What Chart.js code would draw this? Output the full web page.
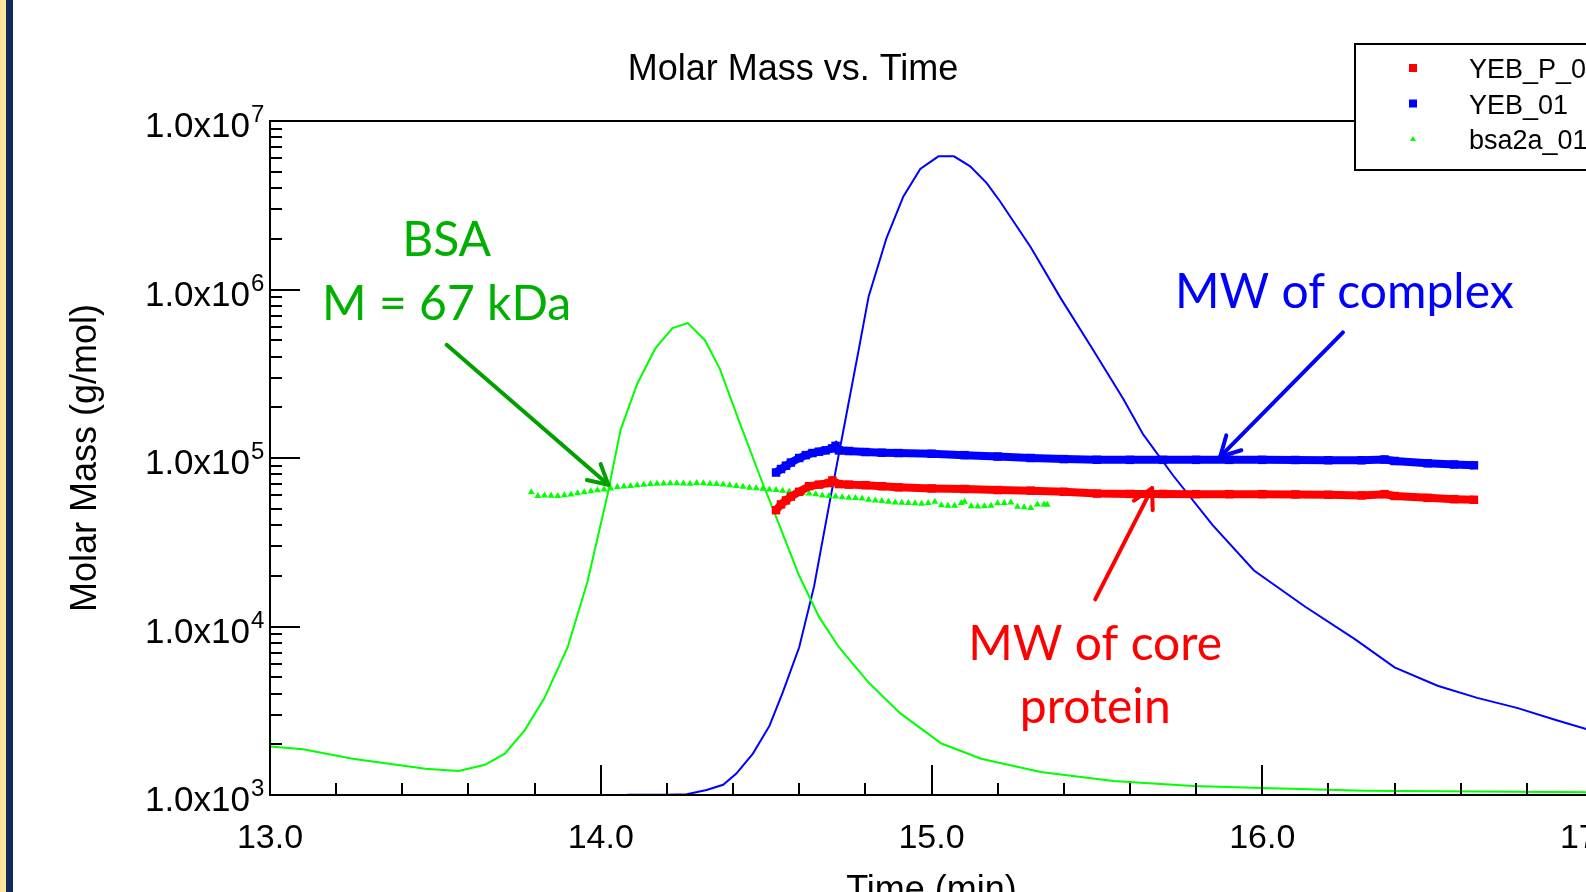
<!DOCTYPE html>
<html lang="en">
<head>
<meta charset="UTF-8" />
<title>Molar Mass vs. Time</title>
<script src="https://cdn.jsdelivr.net/npm/chart.js"></script>
<style>
  html, body { margin: 0; padding: 0; background: #fff; overflow: hidden; }
  .wrap { position: relative; width: 1700px; height: 920px; }
  .strip-yellow { position: absolute; left: 0; top: 0; width: 6px; height: 100%; background: #FFE69C; }
  .strip-navy { position: absolute; left: 6px; top: 0; width: 7px; height: 100%; background: #13295A; }
</style>
</head>
<body>
<div class="wrap">
  <canvas id="grafica"></canvas>
  <div class="strip-yellow"></div>
  <div class="strip-navy"></div>
</div>

<script>
// detector traces (continuous lines)
const timeGreenTrace = [13.00, 13.10, 13.25, 13.47, 13.57, 13.65, 13.71, 13.77, 13.83, 13.90, 13.96, 14.02, 14.06, 14.11, 14.165, 14.217, 14.263, 14.315, 14.36, 14.416, 14.48, 14.54, 14.60, 14.66, 14.72, 14.81, 14.905, 15.03, 15.15, 15.33, 15.55, 15.79, 16.00, 16.31, 16.98, 17.00];
const greenTrace = [1940, 1870, 1640, 1430, 1390, 1510, 1760, 2420, 3770, 7530, 18500, 60000, 147000, 275000, 447000, 590000, 632000, 500000, 338000, 170000, 79000, 40000, 20000, 11400, 7530, 4650, 3060, 2020, 1640, 1370, 1210, 1130, 1100, 1060, 1040, 1040];

const timeBlueTrace = [14.08, 14.20, 14.26, 14.32, 14.37, 14.41, 14.46, 14.51, 14.55, 14.60, 14.645, 14.69, 14.737, 14.78, 14.81, 14.864, 14.915, 14.966, 15.021, 15.068, 15.117, 15.167, 15.207, 15.30, 15.39, 15.486, 15.58, 15.64, 15.73, 15.85, 15.975, 16.13, 16.28, 16.40, 16.53, 16.65, 16.77, 16.89, 17.00];
const blueTrace = [1005, 1005, 1010, 1070, 1150, 1340, 1760, 2570, 4050, 7530, 17300, 52000, 158000, 440000, 910000, 2020000, 3570000, 5200000, 6170000, 6170000, 5380000, 4280000, 3340000, 1780000, 892000, 447000, 224000, 138000, 79000, 40000, 21500, 13100, 8420, 5720, 4450, 3770, 3290, 2780, 2400];

// molar mass (markers)
const timeYEBP = [14.53, 14.545, 14.56, 14.575, 14.60, 14.63, 14.66, 14.69, 14.70, 14.72, 14.75, 14.80, 14.85, 14.90, 15.00, 15.10, 15.20, 15.30, 15.40, 15.50, 15.60, 15.70, 15.80, 15.90, 16.00, 16.10, 16.20, 16.30, 16.37, 16.40, 16.50, 16.58, 16.64];
const massYEBP = [49000, 53000, 56000, 59000, 63000, 68000, 69500, 71000, 73500, 70000, 69500, 69000, 68000, 67000, 66000, 65500, 64500, 64000, 63000, 61500, 61200, 61200, 61000, 61000, 61000, 60800, 60500, 60000, 61000, 59500, 58000, 57000, 56500];

const timeYEB = [14.53, 14.545, 14.56, 14.575, 14.60, 14.62, 14.64, 14.66, 14.68, 14.70, 14.71, 14.72, 14.75, 14.80, 14.85, 14.90, 15.00, 15.10, 15.20, 15.30, 15.40, 15.50, 15.60, 15.70, 15.80, 15.90, 16.00, 16.10, 16.20, 16.30, 16.37, 16.40, 16.50, 16.58, 16.64];
const massYEB = [82000, 86000, 90000, 94000, 100000, 104000, 107000, 109000, 111000, 114000, 118000, 111000, 110000, 108500, 107500, 107000, 106000, 104000, 102000, 100000, 98500, 97600, 97500, 97500, 97500, 97500, 97500, 97300, 97000, 97000, 98000, 96000, 93000, 91500, 90500];

const timeBSA = [13.79, 13.81, 13.83, 13.85, 13.87, 13.89, 13.91, 13.93, 13.95, 13.97, 13.99, 14.01, 14.03, 14.05, 14.07, 14.09, 14.11, 14.13, 14.15, 14.17, 14.19, 14.21, 14.23, 14.25, 14.27, 14.29, 14.31, 14.33, 14.35, 14.37, 14.39, 14.41, 14.43, 14.45, 14.47, 14.49, 14.51, 14.53, 14.55, 14.57, 14.59, 14.61, 14.63, 14.65, 14.67, 14.69, 14.71, 14.73, 14.75, 14.77, 14.79, 14.81, 14.83, 14.85, 14.87, 14.89, 14.91, 14.93, 14.95, 14.97, 14.99, 15.01, 15.03, 15.05, 15.07, 15.09, 15.10, 15.12, 15.14, 15.16, 15.18, 15.20, 15.22, 15.24, 15.26, 15.28, 15.30, 15.32, 15.34, 15.35];
const massBSA = [62700, 59500, 60000, 59700, 59500, 60200, 60800, 61800, 62600, 63500, 64300, 65000, 66000, 67200, 67800, 68300, 68800, 69500, 70000, 70400, 70600, 70700, 70700, 70600, 70400, 71100, 70700, 70400, 70000, 69600, 68900, 68300, 67400, 66700, 66100, 65600, 65000, 64500, 64000, 63300, 62700, 62000, 61500, 61000, 60000, 59500, 59000, 58500, 58000, 57800, 57500, 56500, 56000, 55500, 55000, 54500, 54300, 54000, 53800, 53500, 54000, 55000, 52500, 52000, 52000, 54000, 55000, 51800, 51500, 51800, 52000, 53800, 54000, 54500, 51300, 51000, 50500, 53000, 53000, 52800];

// axis ticks
const xMin = 13, xMax = 17, xMajor = 1, xMinor = 0.2;
const yMinExp = 3, yMaxExp = 7;

const pairs = (t, v) => t.map((x, i) => ({ x: x, y: v[i] }));
const ARIAL = "'Liberation Sans', Arial, sans-serif";
const CALIBRI = "Lato, 'Open Sans', sans-serif";

// notes drawn on top, anchored in data units
const notes = [
  { text: 'BSA', t: 13.534, m: 1.59e6, color: '#00B000' },
  { text: 'M = 67 kDa', t: 13.534, m: 6.55e5, color: '#00B000' },
  { text: 'MW of complex', t: 16.248, m: 7.76e5, color: '#0000FF' },
  { text: 'MW of core', t: 15.495, m: 6.34e3, color: '#FF0000' },
  { text: 'protein', t: 15.495, m: 2.68e3, color: '#FF0000' }
];
const arrows = [
  { t1: 13.534, m1: 4.70e5, t2: 14.023, m2: 6.94e4, color: '#00A000' },
  { t1: 16.244, m1: 5.56e5, t2: 15.873, m2: 1.02e5, color: '#0000FF' },
  { t1: 15.495, m1: 1.45e4, t2: 15.667, m2: 6.62e4, color: '#FF0000' }
];

const frameAndNotes = {
  id: 'frameAndNotes',
  afterDraw(chart) {
    const { ctx, chartArea: a, scales: { x, y } } = chart;
    const line = (x1, y1, x2, y2) => { ctx.beginPath(); ctx.moveTo(x1, y1); ctx.lineTo(x2, y2); ctx.stroke(); };
    ctx.save();
    ctx.strokeStyle = '#000';
    ctx.lineWidth = 2;
    ctx.strokeRect(a.left, a.top, a.right - a.left, a.bottom - a.top);

    // inward ticks
    const nX = Math.round((xMax - xMin) / xMinor);
    for (let i = 0; i <= nX; i++) {
      const v = xMin + i * xMinor;
      const px = Math.round(x.getPixelForValue(v));
      const major = i % Math.round(xMajor / xMinor) === 0;
      line(px, a.bottom, px, a.bottom - (major ? 30 : 12));
    }
    ctx.fillStyle = '#000';
    for (let e = yMinExp; e <= yMaxExp; e++) {
      for (let k = 1; k <= 9; k++) {
        if (e === yMaxExp && k > 1) break;
        const py = Math.round(y.getPixelForValue(k * Math.pow(10, e)));
        line(a.left, py, a.left + (k === 1 ? 30 : 12), py);
      }
      // decade label 1.0x10^e
      const py = y.getPixelForValue(Math.pow(10, e));
      ctx.textBaseline = 'alphabetic';
      ctx.textAlign = 'right';
      ctx.font = '35px ' + ARIAL;
      ctx.fillText('1.0x10', a.left - 20, py + 16);
      ctx.textAlign = 'left';
      ctx.font = '24px ' + ARIAL;
      ctx.fillText(String(e), a.left - 19, py + 1);
    }

    // title
    ctx.font = '36px ' + ARIAL;
    ctx.textAlign = 'center';
    ctx.textBaseline = 'middle';
    ctx.fillText('Molar Mass vs. Time', 793, 70);

    // arrows
    arrows.forEach(ar => {
      const x1 = x.getPixelForValue(ar.t1), y1 = y.getPixelForValue(ar.m1);
      const x2 = x.getPixelForValue(ar.t2), y2 = y.getPixelForValue(ar.m2);
      const ang = Math.atan2(y2 - y1, x2 - x1);
      ctx.strokeStyle = ar.color;
      ctx.lineWidth = 4;
      ctx.lineCap = 'round';
      line(x1, y1, x2, y2);
      [0.5, -0.5].forEach(d => {
        line(x2, y2, x2 - 22 * Math.cos(ang + d), y2 - 22 * Math.sin(ang + d));
      });
    });

    // notes
    ctx.textBaseline = 'alphabetic';
    ctx.font = '48px ' + CALIBRI;
    notes.forEach(n => {
      ctx.fillStyle = n.color;
      ctx.fillText(n.text, x.getPixelForValue(n.t), y.getPixelForValue(n.m));
    });

    // legend box
    ctx.lineCap = 'butt';
    ctx.fillStyle = '#fff';
    ctx.strokeStyle = '#000';
    ctx.lineWidth = 2;
    ctx.fillRect(1355, 44, 400, 126);
    ctx.strokeRect(1355, 44, 400, 126);
    ctx.font = '27px ' + ARIAL;
    ctx.textAlign = 'left';
    ctx.textBaseline = 'middle';
    chart.data.datasets.filter(d => d.inLegend).forEach((d, i) => {
      const cy = 68 + i * 35.5;
      ctx.fillStyle = d.pointBackgroundColor;
      if (d.pointStyle === 'triangle') {
        ctx.beginPath();
        ctx.moveTo(1413, cy - 3); ctx.lineTo(1416, cy + 2); ctx.lineTo(1410, cy + 2);
        ctx.closePath(); ctx.fill();
      } else {
        ctx.fillRect(1409, cy - 4, 8, 8);
      }
      ctx.fillStyle = '#000';
      ctx.fillText(d.label, 1469, cy + 3);
    });
    ctx.restore();
  }
};

new Chart(document.getElementById('grafica'), {
  type: 'line',
  data: {
    datasets: [
      {
        label: 'YEB_P_01', inLegend: true, data: pairs(timeYEBP, massYEBP),
        borderColor: '#FF0000', borderWidth: 8, pointStyle: 'rect', pointRadius: 6,
        pointBackgroundColor: '#FF0000', pointBorderWidth: 0, order: 1
      },
      {
        label: 'YEB_01', inLegend: true, data: pairs(timeYEB, massYEB),
        borderColor: '#0000FF', borderWidth: 8, pointStyle: 'rect', pointRadius: 6,
        pointBackgroundColor: '#0000FF', pointBorderWidth: 0, order: 1
      },
      {
        label: 'bsa2a_01', inLegend: true, data: pairs(timeBSA, massBSA),
        showLine: false, pointStyle: 'triangle', pointRadius: 4,
        pointBackgroundColor: '#00FF00', pointBorderColor: '#00FF00', pointBorderWidth: 0, order: 2
      },
      {
        label: 'bsa2a_01 trace', data: pairs(timeGreenTrace, greenTrace),
        borderColor: '#00FF00', borderWidth: 2, pointRadius: 0, order: 3
      },
      {
        label: 'YEB_01 trace', data: pairs(timeBlueTrace, blueTrace),
        borderColor: '#0000FF', borderWidth: 2, pointRadius: 0, order: 3
      }
    ]
  },
  options: {
    responsive: true,
    maintainAspectRatio: false,
    animation: false,
    layout: { padding: { top: 121, right: 107, bottom: 0, left: 0 } },
    plugins: {
      legend: { display: false },
      title: { display: false },
      tooltip: { enabled: false }
    },
    scales: {
      x: {
        type: 'linear', min: xMin, max: xMax,
        afterFit: s => { s.height = 125; },
        grid: { display: false },
        border: { display: false },
        ticks: {
          stepSize: xMajor, autoSkip: false, maxRotation: 0, padding: 15, color: '#000',
          font: { family: ARIAL, size: 34 },
          callback: v => Number(v).toFixed(1)
        },
        title: {
          display: true, text: 'Time (min)', color: '#000',
          font: { family: ARIAL, size: 36 }, padding: { top: 0, bottom: 7 }
        }
      },
      y: {
        type: 'logarithmic', min: Math.pow(10, yMinExp), max: Math.pow(10, yMaxExp),
        afterFit: s => { s.width = 270; },
        grid: { display: false },
        border: { display: false },
        ticks: { display: false },
        title: {
          display: true, text: 'Molar Mass (g/mol)', color: '#000',
          font: { family: ARIAL, size: 36 }, padding: { top: 64, bottom: 0 }
        }
      }
    }
  },
  plugins: [frameAndNotes]
});
</script>
</body>
</html>
